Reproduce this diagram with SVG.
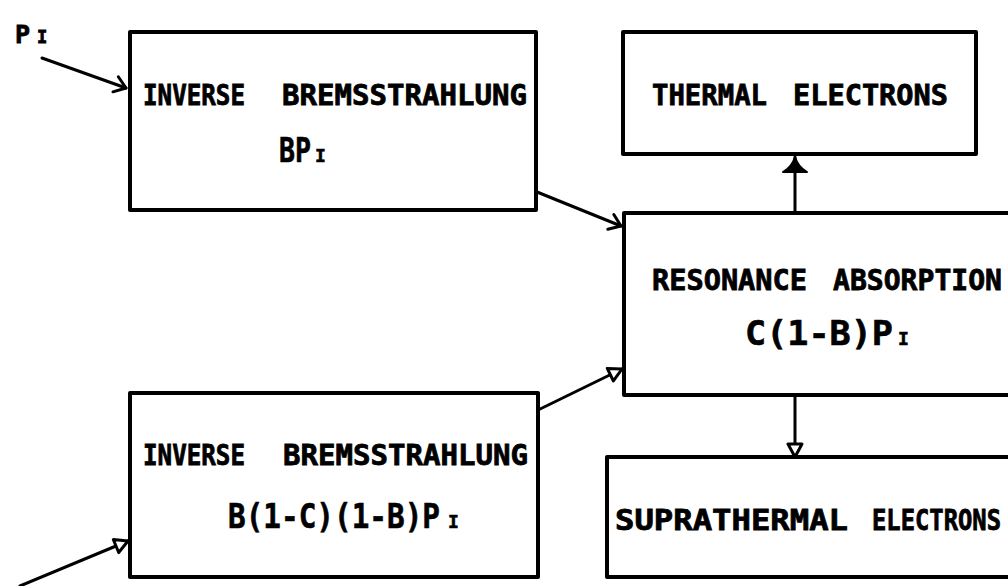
<svg xmlns="http://www.w3.org/2000/svg" width="1008" height="586" viewBox="0 0 1008 586">
<style>
.box{fill:#fff;stroke:#000;stroke-width:4;stroke-linejoin:round}
.lbl{font-family:"DejaVu Sans Mono","Liberation Mono",monospace;font-weight:bold;font-size:29px;fill:#000;stroke:#000;stroke-width:0.8}
.frm{font-family:"DejaVu Sans Mono","Liberation Mono",monospace;font-weight:bold;font-size:33px;fill:#000;stroke:#000;stroke-width:0.6}
.sub{font-size:18px}
.con{fill:none;stroke:#000;stroke-width:3;stroke-linecap:round}
</style>
<defs>
<marker id="vhead" markerUnits="userSpaceOnUse" viewBox="-2 -10 16 20" refX="12" refY="0" markerWidth="16" markerHeight="20" orient="auto">
<path d="M1,-8 L12,0 L1,8" fill="none" stroke="#000" stroke-width="3" stroke-linecap="round" stroke-linejoin="round"/>
</marker>
<marker id="tri" markerUnits="userSpaceOnUse" viewBox="-2 -10 18 20" refX="14" refY="0" markerWidth="18" markerHeight="20" orient="auto">
<path d="M1,-7 L14,0 L1,7 Z" fill="#fff" stroke="#000" stroke-width="3" stroke-linejoin="round"/>
</marker>
<marker id="solid" markerUnits="userSpaceOnUse" viewBox="-2 -14 20 28" refX="16" refY="0" markerWidth="20" markerHeight="28" orient="auto">
<path d="M1,-12 Q6,-3 16,0 Q6,3 1,12 Z" fill="#000" stroke="#000" stroke-width="2" stroke-linejoin="round"/>
</marker>
</defs>

<g id="connectors">
<path class="con" d="M42,58 L126,88" marker-end="url(#vhead)"/>
<path class="con" d="M537,192 L621,226" marker-end="url(#vhead)"/>
<path class="con" d="M536,411 L622,369" marker-end="url(#tri)"/>
<path class="con" d="M20,586 L128,541" marker-end="url(#tri)"/>
<path class="con" d="M795,212 L795,157" marker-end="url(#solid)"/>
<path class="con" d="M795,396 L795,457" marker-end="url(#tri)"/>
</g>

<g id="input-label">
<text class="lbl" style="font-size:25px" x="15" y="43">P<tspan style="font-size:17px" x="37">I</tspan></text>
</g>

<g id="ib-top">
<rect class="box" x="130" y="32" width="406" height="178"/>
<text class="lbl" y="105"><tspan x="143" textLength="102" lengthAdjust="spacingAndGlyphs">INVERSE</tspan><tspan x="282" textLength="245" lengthAdjust="spacingAndGlyphs">BREMSSTRAHLUNG</tspan></text>
<text class="frm" y="162"><tspan x="279" textLength="32" lengthAdjust="spacingAndGlyphs">BP</tspan><tspan class="sub" x="315">I</tspan></text>
</g>

<g id="thermal">
<rect class="box" x="623" y="32" width="353" height="122"/>
<text class="lbl" y="105"><tspan x="652" textLength="115" lengthAdjust="spacingAndGlyphs">THERMAL</tspan><tspan x="793" textLength="155" lengthAdjust="spacingAndGlyphs">ELECTRONS</tspan></text>
</g>

<g id="resonance">
<rect class="box" x="624" y="213" width="400" height="182"/>
<text class="lbl" y="290"><tspan x="652" textLength="155" lengthAdjust="spacingAndGlyphs">RESONANCE</tspan><tspan x="833" textLength="169" lengthAdjust="spacingAndGlyphs">ABSORPTION</tspan></text>
<text class="frm" y="345"><tspan x="745" textLength="148" lengthAdjust="spacingAndGlyphs">C(1-B)P</tspan><tspan class="sub" x="898">I</tspan></text>
</g>

<g id="ib-bottom">
<rect class="box" x="130" y="393" width="408" height="184"/>
<text class="lbl" y="465"><tspan x="143" textLength="102" lengthAdjust="spacingAndGlyphs">INVERSE</tspan><tspan x="283" textLength="245" lengthAdjust="spacingAndGlyphs">BREMSSTRAHLUNG</tspan></text>
<text class="frm" y="528"><tspan x="228" textLength="212" lengthAdjust="spacingAndGlyphs">B(1-C)(1-B)P</tspan><tspan class="sub" x="448">I</tspan></text>
</g>

<g id="suprathermal">
<rect class="box" x="607" y="457" width="420" height="120"/>
<text class="lbl" y="530"><tspan x="615" textLength="233" lengthAdjust="spacingAndGlyphs">SUPRATHERMAL</tspan><tspan x="872" textLength="129" lengthAdjust="spacingAndGlyphs">ELECTRONS</tspan></text>
</g>
</svg>
